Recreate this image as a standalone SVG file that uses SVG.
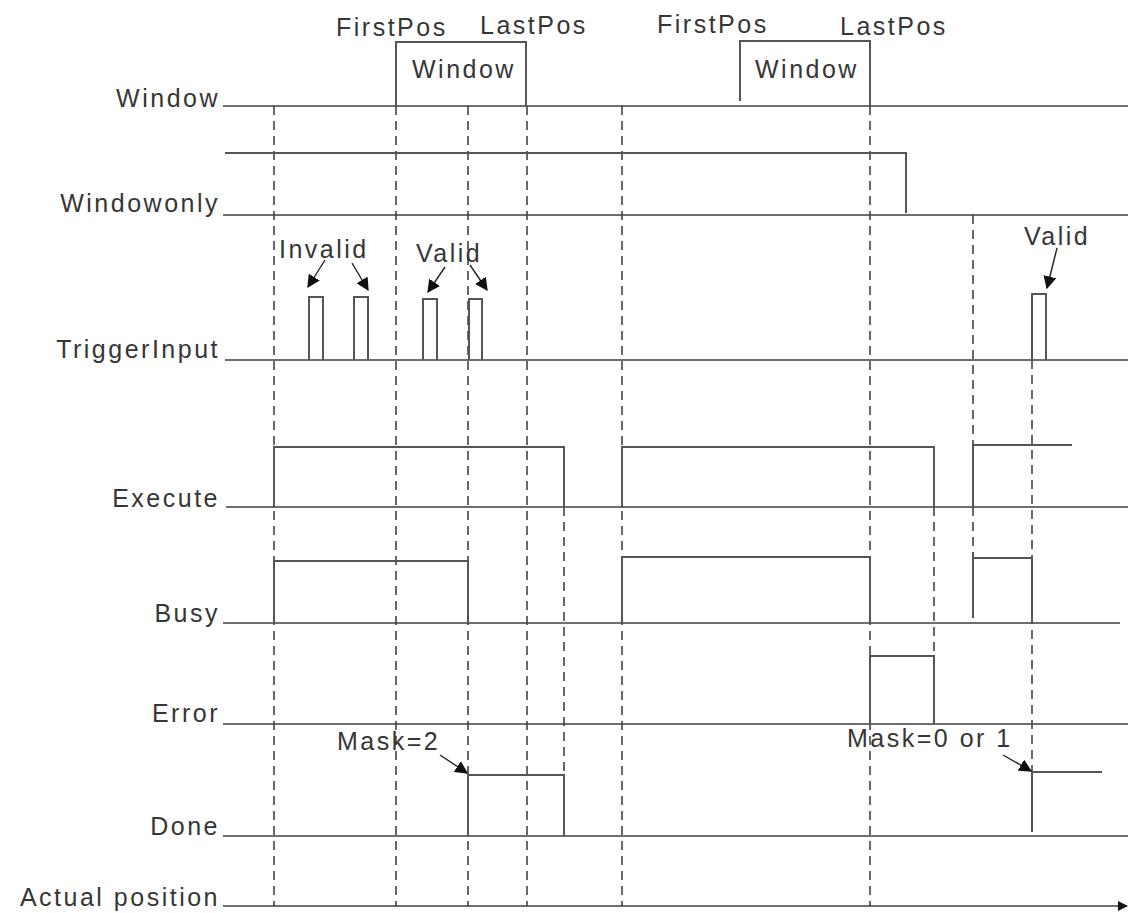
<svg xmlns="http://www.w3.org/2000/svg" width="1128" height="913" viewBox="0 0 1128 913">
<defs>
<style>
text{font-family:"Liberation Sans",Arial,sans-serif;font-size:25px;letter-spacing:2.5px;fill:#363636}
.lbl{text-anchor:end}
.base{stroke:#6e6e6e;stroke-width:2.2;fill:none}
.sig{stroke:#555;stroke-width:2;fill:none}
.dash{stroke:#444;stroke-width:1.6;stroke-dasharray:9 6;fill:none}
.arr{stroke:#222;stroke-width:1.4;fill:none;marker-end:url(#ah)}
</style>
<marker id="ah" viewBox="0 0 10 10" refX="9" refY="5" markerWidth="13" markerHeight="13" markerUnits="userSpaceOnUse" orient="auto">
<path d="M0,0 L10,5 L0,10 z" fill="#111"/>
</marker>
<marker id="axh" viewBox="0 0 10 10" refX="9" refY="5" markerWidth="10" markerHeight="10" markerUnits="userSpaceOnUse" orient="auto">
<path d="M0,0 L10,5 L0,10 z" fill="#111"/>
</marker>
</defs>
<rect width="1128" height="913" fill="#fff"/>

<g id="labels">
<text class="lbl" x="220" y="107">Window</text>
<text class="lbl" x="220" y="212">Windowonly</text>
<text class="lbl" x="220" y="358">TriggerInput</text>
<text class="lbl" x="220" y="507">Execute</text>
<text class="lbl" x="220" y="622">Busy</text>
<text class="lbl" x="220" y="722">Error</text>
<text class="lbl" x="220" y="835">Done</text>
<text class="lbl" x="220" y="906">Actual position</text>
</g>

<g id="baselines">
<line class="base" x1="223" y1="106" x2="1128" y2="106"/>
<line class="base" x1="223" y1="215" x2="1128" y2="215"/>
<line class="base" x1="225" y1="360" x2="1128" y2="360"/>
<line class="base" x1="226" y1="507" x2="1128" y2="507"/>
<line class="base" x1="223" y1="623" x2="1120" y2="623"/>
<line class="base" x1="223" y1="724" x2="1128" y2="724"/>
<line class="base" x1="223" y1="836" x2="1128" y2="836"/>
<line class="base" x1="223" y1="906" x2="1127" y2="906" marker-end="url(#axh)"/>
</g>

<g id="connectors">
<line class="dash" x1="274" y1="106" x2="274" y2="906"/>
<line class="dash" x1="396" y1="106" x2="396" y2="906"/>
<line class="dash" x1="468" y1="106" x2="468" y2="906"/>
<line class="dash" x1="527" y1="106" x2="527" y2="906"/>
<line class="dash" x1="564" y1="507" x2="564" y2="775"/>
<line class="dash" x1="622" y1="106" x2="622" y2="906"/>
<line class="dash" x1="870" y1="106" x2="870" y2="906"/>
<line class="dash" x1="934" y1="507" x2="934" y2="656"/>
<line class="dash" x1="973" y1="215" x2="973" y2="445"/>
<line class="dash" x1="973" y1="507" x2="973" y2="552"/>
<line class="dash" x1="1032" y1="360" x2="1032" y2="772"/>
</g>

<g id="window">
<polyline class="sig" points="396,106 396,42 526,42 526,106"/>
<polyline class="sig" points="740,101 740,41 870,41 870,106"/>
<text x="336" y="36">FirstPos</text>
<text x="480" y="34">LastPos</text>
<text x="412" y="78">Window</text>
<text x="657" y="33">FirstPos</text>
<text x="840" y="35">LastPos</text>
<text x="755" y="78">Window</text>
</g>

<g id="windowonly">
<polyline class="sig" points="225,153 906,153 906,213"/>
</g>

<g id="trigger">
<polyline class="sig" points="309,360 309,297 323,297 323,360"/>
<polyline class="sig" points="354,360 354,297 368,297 368,360"/>
<polyline class="sig" points="423,360 423,299 437,299 437,360"/>
<polyline class="sig" points="469,360 469,299 482,299 482,360"/>
<polyline class="sig" points="1032,360 1032,294 1046,294 1046,360"/>
<text x="279" y="258">Invalid</text>
<text x="416" y="262">Valid</text>
<text x="1024" y="245">Valid</text>
<line class="arr" x1="325" y1="260" x2="308" y2="287"/>
<line class="arr" x1="352" y1="263" x2="368" y2="290"/>
<line class="arr" x1="445" y1="267" x2="428" y2="292"/>
<line class="arr" x1="470" y1="265" x2="487" y2="290"/>
<line class="arr" x1="1057" y1="248" x2="1047" y2="288"/>
</g>

<g id="execute">
<polyline class="sig" points="274,507 274,447 564,447 564,507"/>
<polyline class="sig" points="622,507 622,447 934,447 934,507"/>
<polyline class="sig" points="973,507 973,445 1072,445"/>
</g>

<g id="busy">
<polyline class="sig" points="274,623 274,561 468,561 468,623"/>
<polyline class="sig" points="622,623 622,557 870,557 870,623"/>
<polyline class="sig" points="973,618 973,552 973,558 1032,558 1032,623"/>
</g>

<g id="error">
<polyline class="sig" points="870,724 870,656 934,656 934,724"/>
</g>

<g id="done">
<polyline class="sig" points="468,836 468,775 564,775 564,836"/>
<polyline class="sig" points="1032,832 1032,772 1102,772"/>
<text x="337" y="750">Mask=2</text>
<text x="847" y="747">Mask=0 or 1</text>
<line class="arr" x1="440" y1="755" x2="467" y2="773"/>
<line class="arr" x1="1003" y1="755" x2="1031" y2="771"/>
</g>
</svg>
